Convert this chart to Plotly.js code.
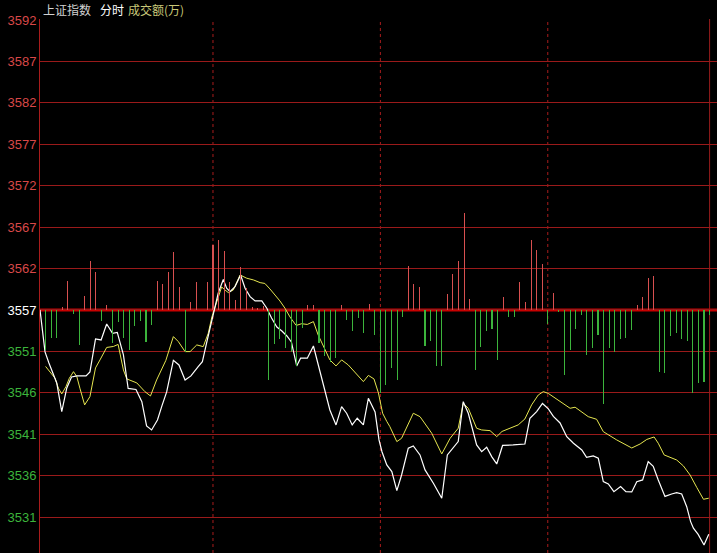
<!DOCTYPE html>
<html>
<head>
<meta charset="utf-8">
<script src="https://cdn.plot.ly/plotly-3.0.1.min.js"></script>
<style>
html,body{margin:0;padding:0;background:#000;}
#chart{width:717px;height:553px;}
</style>
</head>
<body>
<div id="chart"></div>
<script>
// ---- Data (minutes since 9:30 open, index values) ----
const priceMin = [0,1.8,3.2,6.0,7.8,9.6,11.3,13.3,16.5,17.9,19.9,21.9,23.9,26.0,27.7,29.9,31.6,34.4,36.5,38.2,40.0,42.1,43.7,45.4,47.8,49.8,52.0,54.1,56.7,58.2,59.7,62.1,63.9,65.7,66.9,68.1,69.9,71.9,73.5,75.3,77.1,79.5,81.3,83.0,84.9,86.7,88.5,90.1,92.0,93.4,95.8,98.0,99.7,102.2,103.9,106.1,108.1,109.9,111.9,113.7,115.9,117.7,120.1,121.5,122.6,124.3,126.1,127.9,129.6,132.0,133.8,136.2,138.0,141.0,144.0,146.0,148.1,149.9,151.7,153.5,156.5,158.3,160.1,161.9,163.7,165.8,169.6,173.8,175.6,178.0,180.1,182.2,184.0,186.4,188.8,191.2,194.2,195.9,198.3,200.1,201.9,203.7,205.7,208.1,210.0,212.1,213.9,216.0,218.0,219.8,221.6,224.0,226.4,228.2,230.0,231.8,233.2,234.2,235.9,238.0,239.7];
const priceVal = [3557.00,3551.85,3550.50,3548.05,3544.53,3547.43,3548.78,3548.91,3548.91,3549.40,3553.44,3553.32,3555.28,3554.14,3554.24,3551.48,3547.37,3547.25,3545.75,3542.77,3542.28,3543.51,3545.23,3546.94,3550.81,3550.25,3548.41,3548.91,3550.05,3550.66,3552.92,3556.63,3559.09,3560.74,3559.66,3559.24,3559.86,3561.29,3559.66,3558.63,3558.10,3558.10,3557.21,3556.02,3554.91,3554.42,3553.81,3553.08,3550.13,3551.08,3551.08,3552.58,3550.25,3546.78,3544.73,3542.90,3545.14,3544.33,3542.90,3543.72,3542.90,3546.17,3544.49,3541.06,3539.58,3537.99,3537.17,3534.84,3536.76,3540.04,3540.32,3539.22,3537.38,3535.74,3533.91,3539.22,3540.04,3540.85,3545.75,3544.33,3540.44,3539.62,3540.16,3539.01,3538.11,3540.38,3540.44,3540.56,3543.72,3544.53,3545.53,3544.86,3543.94,3543.14,3541.46,3540.65,3539.83,3538.93,3539.09,3538.81,3535.94,3535.66,3534.71,3535.33,3534.71,3534.68,3535.94,3536.15,3538.39,3537.83,3536.15,3534.13,3534.43,3534.59,3534.43,3532.87,3531.04,3530.23,3529.47,3528.18,3529.49];

const avgMin = [2.0,3.6,5.4,6.6,7.8,9.3,10.5,12.0,13.2,14.3,16.0,17.9,19.9,21.5,23.9,26.3,28.0,29.9,31.1,34.7,37.6,39.6,41.8,45.1,47.8,49.6,52.0,53.8,56.2,58.5,60.3,61.6,63.3,65.1,66.3,67.5,69.3,71.7,74.1,76.5,78.9,80.6,82.4,84.2,86.0,87.8,89.6,91.8,93.8,95.8,98.0,99.7,101.8,103.9,106.1,108.1,110.5,113.7,115.9,117.7,119.7,121.3,122.8,124.3,125.4,127.9,129.6,133.8,136.2,140.4,144.0,147.0,149.9,151.7,153.5,156.5,158.3,161.3,163.7,165.6,168.5,171.4,173.8,176.2,178.6,180.4,182.2,184.0,187.0,190.0,191.8,194.2,196.5,199.5,201.9,206.7,212.1,215.1,217.5,220.1,221.6,223.7,225.8,228.2,230.6,233.0,235.4,237.8,239.7];
const avgVal = [3550.07,3549.43,3548.62,3547.40,3546.70,3547.59,3548.62,3549.43,3548.82,3547.40,3545.35,3546.37,3549.89,3550.87,3552.40,3552.52,3552.77,3549.64,3548.54,3548.05,3546.98,3546.45,3548.41,3550.81,3553.73,3553.11,3551.89,3551.89,3552.71,3552.50,3554.14,3556.14,3558.02,3559.82,3559.45,3559.12,3559.45,3561.29,3560.89,3560.68,3560.35,3560.25,3559.58,3558.84,3558.10,3557.21,3556.14,3555.10,3555.31,3555.22,3555.57,3553.93,3552.50,3550.87,3550.13,3550.87,3550.25,3549.03,3548.21,3548.97,3548.54,3546.82,3544.33,3543.32,3542.69,3540.85,3541.26,3544.33,3543.91,3541.88,3539.34,3541.26,3542.49,3545.56,3544.94,3542.49,3542.28,3542.20,3541.46,3542.10,3542.49,3542.90,3543.63,3545.35,3546.57,3546.98,3546.76,3546.33,3545.63,3544.94,3545.07,3544.53,3543.91,3543.59,3542.07,3541.06,3540.07,3540.56,3541.12,3541.42,3540.65,3539.22,3538.93,3538.60,3537.87,3536.76,3535.23,3533.78,3533.91];

// turnover bars, one per 2-minute slot (positive = red, negative = green)
const barVal = [-40,-28,-28,3,29,-4,-35,14,49,38,
  -11,5,-33,-12,-28,-40,-16,-11,-32,-15,
  29,26,38,58,23,-42,8,28,0,28,
  65,70,59,28,10,43,22,3,2,4,
  -70,-34,-29,-38,-42,-56,-18,5,5,-33,
  -46,-52,-48,5,-10,-21,-8,-23,6,-25,
  -83,-75,-58,-70,-7,44,26,23,-36,-31,
  -56,-56,16,36,49,97,11,-60,-37,-21,
  -19,-50,13,-7,-7,28,8,70,60,46,
  -14,17,-2,-65,-40,-19,-5,-45,-38,-25,
  -94,-38,-42,-29,-28,-20,5,13,32,34,
  -62,-63,-26,-23,-29,-31,-83,-73,-72,-5];
const barMin = barVal.map((v,i) => 2*(i+1));

const tickLabels = ['3592','3587','3582','3577','3572','3567','3562','3557','3551','3546','3541','3536','3531'];
const prevClose = 3557;
const step = 5.08;
const dividers = [62,122,182];
const endMinute = 240;

// ---- Layout helpers ----
const upColor = '#d85050', downColor = '#3cb43c';
const tickVals = tickLabels.map((t,i) => prevClose + (7-i)*step);
const tickText = tickLabels.map((t,i) => {
  const c = i < 7 ? '#d84848' : (i === 7 ? '#ffffff' : '#3cb43c');
  return '<span style="color:' + c + '">' + t + '</span>';
});
const pxPerUnit = 41.42/step;
const yTop = tickVals[0] + 1/pxPerUnit;
const yBot = yTop - 534/pxPerUnit;

const traces = [
  {type:'bar', x:barMin, y:barVal, yaxis:'y2', width:0.38,
   marker:{color:barVal.map(v => v>=0 ? upColor : downColor), line:{width:0}},
   hoverinfo:'skip'},
  {type:'scatter', mode:'lines', x:avgMin, y:avgVal,
   line:{color:'#e6e650', width:1}, hoverinfo:'skip'},
  {type:'scatter', mode:'lines', x:priceMin, y:priceVal,
   line:{color:'#ffffff', width:1.2}, hoverinfo:'skip'}
];

const shapes = dividers.map(d => ({type:'line', xref:'x', yref:'paper', x0:d, x1:d, y0:0, y1:1,
  line:{color:'#a81c1c', width:1, dash:'dot'}, layer:'below'}));
shapes.push({type:'line', xref:'x', yref:'paper', x0:endMinute, x1:endMinute, y0:0, y1:1,
  line:{color:'#961c1c', width:1}, layer:'below'});
shapes.push({type:'line', xref:'paper', yref:'y', x0:0, x1:1, y0:prevClose, y1:prevClose,
  line:{color:'#c80000', width:3}, layer:'below'});

const layout = {
  width:717, height:553,
  margin:{l:40, r:0, t:19, b:0, pad:0},
  paper_bgcolor:'#000', plot_bgcolor:'#000',
  showlegend:false, bargap:0,
  font:{family:'Liberation Sans, Arial, sans-serif', size:12, color:'#ffffff'},
  xaxis:{range:[0, 677/2.79], showgrid:false, zeroline:false, showticklabels:false,
         showline:false, ticks:'', fixedrange:true},
  yaxis:{range:[yBot, yTop], tickvals:tickVals, ticktext:tickText, showgrid:true,
         gridcolor:'#9a1a1a', gridwidth:1, zeroline:false, showline:true,
         linecolor:'#a81c1c', linewidth:1, ticks:'', fixedrange:true,
         tickfont:{family:'Liberation Sans, Arial, sans-serif', size:13}},
  yaxis2:{range:[-243, 291], overlaying:'y', showgrid:false, zeroline:false,
          showticklabels:false, ticks:'', fixedrange:true},
  shapes:shapes,
  annotations:[
    {xref:'paper', yref:'paper', x:0.0015, y:1.0169, xanchor:'left', yanchor:'middle',
     text:'上证指数', showarrow:false,
     font:{family:'Noto Sans CJK SC', size:12, color:'#d2d2d2'}},
    {xref:'paper', yref:'paper', x:0.0857, y:1.0169, xanchor:'left', yanchor:'middle',
     text:'分时', showarrow:false,
     font:{family:'Noto Sans CJK SC', size:12, color:'#ffffff'}},
    {xref:'paper', yref:'paper', x:0.127, y:1.0169, xanchor:'left', yanchor:'middle',
     text:'成交额(万)', showarrow:false,
     font:{family:'Noto Sans CJK SC', size:12, color:'#c8c878'}}
  ]
};

Plotly.newPlot('chart', traces, layout, {displayModeBar:false, staticPlot:true});
</script>
</body>
</html>
